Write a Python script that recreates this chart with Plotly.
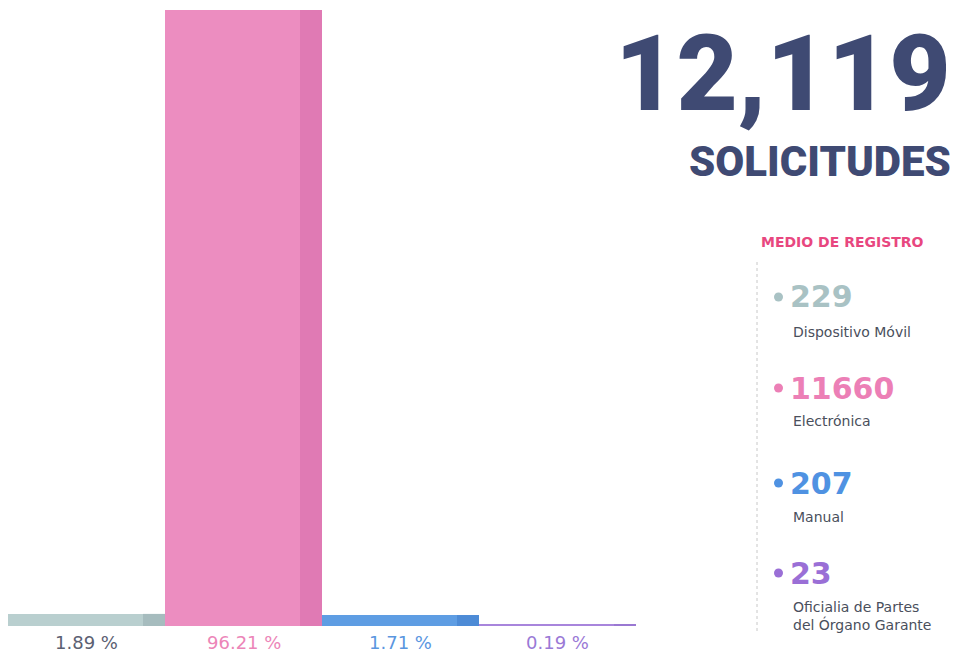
import plotly.graph_objects as go

categories = ["Dispositivo Móvil", "Electrónica", "Manual", "Oficialia de Partes<br>del Órgano Garante"]
values = [229, 11660, 207, 23]
bar_colors = ["#b9cfcf", "#ec8dc0", "#5e9de3", "#a885dc"]
strip_colors = ["#a6bcbe", "#e07ab4", "#4d8bd6", "#9a78d2"]
num_colors = ["#a9c2c4", "#ec7fb6", "#4f92e2", "#9a6fd6"]
pct_colors = ["#5b6072", "#ec85b8", "#5a96df", "#9a79d6"]
total = sum(values)

OFF = 8  # page body margin
W, H = 963 - 2 * OFF, 661 - 2 * OFF
def px(x): return (x - OFF) / W
def py(y): return 1 - (y - OFF) / H

fig = go.Figure()
xs = list(range(len(values)))
fig.add_trace(go.Bar(x=xs, y=values, marker=dict(color=bar_colors, line=dict(width=0)), width=1.0, hoverinfo="skip"))
fig.add_trace(go.Bar(x=xs, y=values, marker=dict(color=strip_colors, line=dict(width=0)), width=0.14, offset=0.36, hoverinfo="skip"))

annotations = []
shapes = []
for i, v in enumerate(values):
    annotations.append(dict(x=i, y=py(642), xref="x", yref="paper", text=f"{v/total*100:.2f} %",
                            showarrow=False, font=dict(family="DejaVu Sans", size=18, color=pct_colors[i]),
                            xanchor="center", yanchor="middle"))

# Headline
annotations.append(dict(x=px(953), y=py(74), xref="paper", yref="paper", text=f"{total:,}",
                        showarrow=False, font=dict(family="Roboto", size=106, color="#3f4a73", weight=900),
                        xanchor="right", yanchor="middle"))
annotations.append(dict(x=px(953), y=py(161), xref="paper", yref="paper", text="SOLICITUDES",
                        showarrow=False, font=dict(family="Roboto", size=42, color="#3f4a73", weight=900),
                        xanchor="right", yanchor="middle"))
annotations.append(dict(x=px(759), y=py(242), xref="paper", yref="paper", text="<b>MEDIO DE REGISTRO</b>",
                        showarrow=False, font=dict(family="DejaVu Sans", size=14, color="#e8477f"),
                        xanchor="left", yanchor="middle"))

num_y = [297, 388, 483, 573]
lab_y = [332, 421, 517, 616]
for i, v in enumerate(values):
    annotations.append(dict(x=px(788), y=py(num_y[i]), xref="paper", yref="paper", text=f"<b>{v}</b>",
                            showarrow=False, font=dict(family="DejaVu Sans", size=30, color=num_colors[i]),
                            xanchor="left", yanchor="middle"))
    annotations.append(dict(x=px(791), y=py(lab_y[i]), xref="paper", yref="paper", text=categories[i],
                            showarrow=False, font=dict(family="DejaVu Sans", size=14, color="#4a4f5c"),
                            xanchor="left", yanchor="middle", align="left"))
    shapes.append(dict(type="circle", xref="paper", yref="paper",
                       x0=px(774), x1=px(783), y0=py(num_y[i] + 4.5), y1=py(num_y[i] - 4.5),
                       fillcolor=num_colors[i], line=dict(width=0)))

shapes.append(dict(type="line", xref="paper", yref="paper", x0=px(757), x1=px(757), y0=py(262), y1=py(632),
                   line=dict(color="#c8c8c8", width=1, dash="dot")))

fig.update_layout(
    width=W, height=H, margin=dict(l=0, r=0, t=0, b=0),
    paper_bgcolor="white", plot_bgcolor="white",
    barmode="overlay", showlegend=False,
    xaxis=dict(domain=[px(8), px(636)], range=[-0.5, 3.5], visible=False, fixedrange=True),
    yaxis=dict(domain=[py(626), py(10)], range=[0, 11660], visible=False, fixedrange=True),
    annotations=annotations, shapes=shapes,
)
fig.write_html("out.html")
